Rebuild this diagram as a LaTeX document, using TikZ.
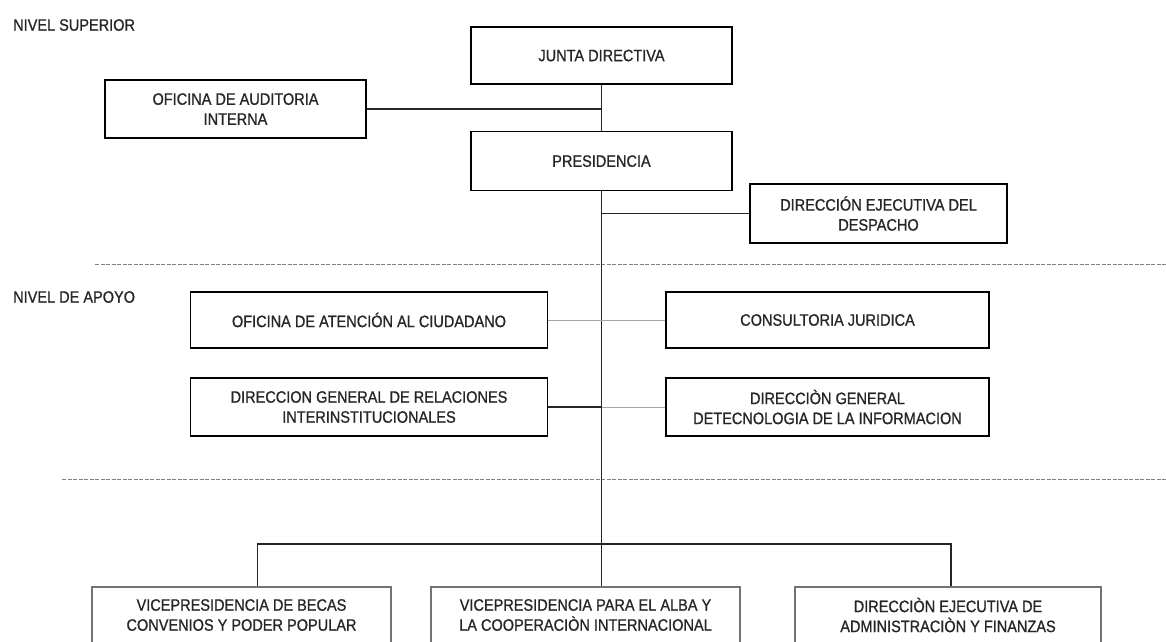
\documentclass[tikz,border=0pt]{standalone}
\usepackage{fontspec}
\setmainfont[FakeStretch=0.88,FakeBold=0.9]{Liberation Sans}
\usetikzlibrary{positioning}

\tikzset{
  unidad/.style={draw=black, line width=1.6pt, fill=white, align=center, inner sep=0pt,
    minimum width=261pt, minimum height=58pt, text=black!85,
    font=\fontsize{16.5}{20}\selectfont},
  vice/.style={unidad, draw=black!55, line width=1.3pt, minimum height=56pt},
  nivel/.style={anchor=west, inner sep=0pt, text=black!85, font=\fontsize{16.5}{20}\selectfont},
  enlace/.style={line width=1.6pt, black!85},
  tenue/.style={line width=1pt, black!35},
  corte/.style={line width=0.9pt, black!50, dash pattern=on 4pt off 1.5pt}
}

\begin{document}
\begin{tikzpicture}[x=1pt,y=-1pt]
  \useasboundingbox (0,0) rectangle (1166,641);
  \clip (0,0) rectangle (1166,641);
  \draw[corte] (95,264) -- (1166,264);
  \draw[corte] (62,479) -- (1166,479);
  \node[nivel] (nsup) at (13,25) {NIVEL SUPERIOR};
  \node[nivel] (napo) at (13,297) {NIVEL DE APOYO};
  \node[unidad, minimum height=57pt] (junta) at (601.5,55.5) {JUNTA DIRECTIVA};
  \node[unidad, below=46pt of junta, minimum height=59pt] (pres) {PRESIDENCIA};
  \node[unidad] (audit) at (235.5,109) {OFICINA DE AUDITORIA\\INTERNA};
  \node[unidad, minimum width=257pt, minimum height=59pt] (desp) at (878.5,213.5) {DIRECCIÓN EJECUTIVA DEL\\DESPACHO};
  \node[unidad, minimum width=357pt, minimum height=56pt] (atenc) at (369,320) {OFICINA DE ATENCIÓN AL CIUDADANO};
  \node[unidad, minimum width=323pt, minimum height=56pt] (juridica) at (827.5,320) {CONSULTORIA JURIDICA};
  \node[unidad, minimum width=357pt] (relac) at (369,407) {DIRECCION GENERAL DE RELACIONES\\INTERINSTITUCIONALES};
  \node[unidad, minimum width=323pt] (tecno) at (827.5,407) {DIRECCIÒN GENERAL\\DETECNOLOGIA DE LA INFORMACION};
  \node[vice, minimum width=299pt] (becas) at (241.5,615) {VICEPRESIDENCIA DE BECAS\\CONVENIOS Y PODER POPULAR};
  \node[vice, minimum width=309pt] (alba) at (585.5,615) {VICEPRESIDENCIA PARA EL ALBA Y\\LA COOPERACIÒN INTERNACIONAL};
  \node[vice, minimum width=306pt] (finan) at (948,615) {DIRECCIÒN EJECUTIVA DE\\ADMINISTRACIÒN Y FINANZAS};
  \coordinate (bus) at (601,544);
  \draw[enlace] (junta.south) -- (pres.north);
  \draw[enlace] (pres.south) -- (pres.south |- alba.north);
  \draw[enlace] (audit.east) -- (audit.east -| junta.south);
  \draw[enlace] (desp.west) -- (desp.west -| pres.south);
  \draw[tenue] (atenc.east) -- (juridica.west);
  \draw[enlace] (relac.east) -- (relac.east -| pres.south);
  \draw[tenue] (relac.east -| pres.south) -- (tecno.west);
  \draw[enlace] ([xshift=16pt]becas.north) |- (bus) -| ([xshift=3pt]finan.north);
\end{tikzpicture}
\end{document}
